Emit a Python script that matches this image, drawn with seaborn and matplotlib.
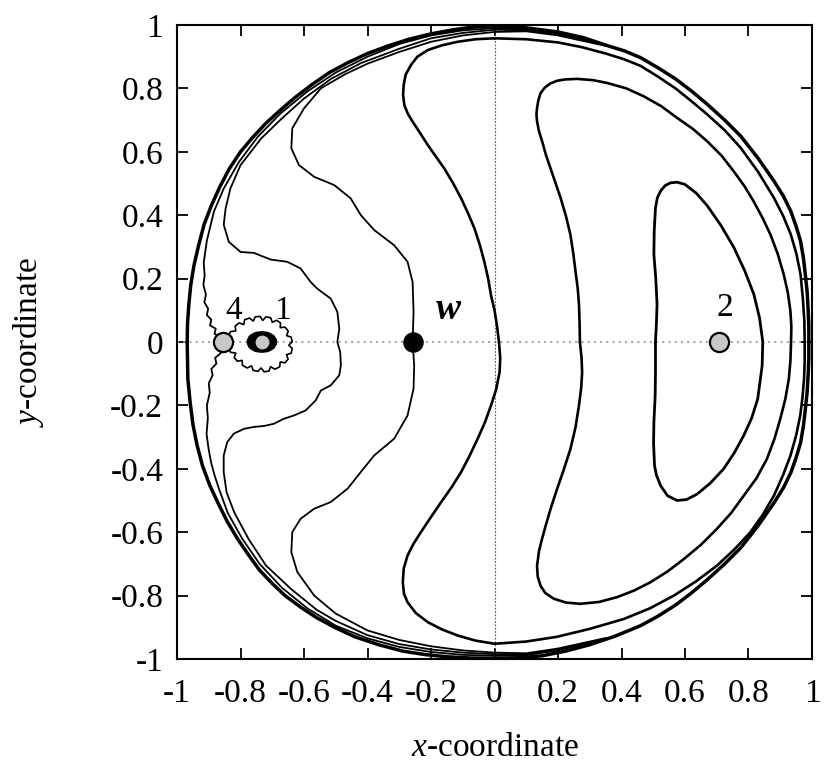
import matplotlib
matplotlib.use("Agg")
import matplotlib.pyplot as plt
import seaborn as sns

# ---------------- data ----------------
# outermost closed curve
c0_x = [0.0, -0.07, -0.13, -0.2, -0.27, -0.335, -0.4, -0.46, -0.52, -0.575, -0.63, -0.675, -0.72, -0.762,
        -0.8, -0.835, -0.865, -0.892, -0.915, -0.932, -0.947, -0.957, -0.963, -0.967, -0.968,
        -0.967, -0.966, -0.959, -0.95, -0.937, -0.92, -0.897, -0.87, -0.842, -0.81, -0.776, -0.74, -0.7,
        -0.66, -0.61, -0.56, -0.5, -0.44, -0.365, -0.29, -0.22, -0.15, -0.075, 0.0,
        0.075, 0.15, 0.225, 0.3, 0.38, 0.46, 0.515, 0.57, 0.62, 0.67, 0.725, 0.775, 0.83, 0.88, 0.91,
        0.933, 0.95, 0.964, 0.973, 0.979, 0.985, 0.988, 0.99, 0.99,
        0.99, 0.988, 0.985, 0.979, 0.973, 0.964, 0.95, 0.933, 0.91, 0.88, 0.83, 0.775, 0.725, 0.67,
        0.62, 0.57, 0.515, 0.46, 0.41, 0.355, 0.28, 0.2, 0.1, 0.0]
c0_y = [0.997, 0.993, 0.985, 0.972, 0.955, 0.934, 0.91, 0.882, 0.85, 0.812, 0.77, 0.731, 0.69, 0.645,
        0.6, 0.547, 0.49, 0.43, 0.37, 0.305, 0.24, 0.178, 0.116, 0.058, 0.0,
        -0.058, -0.116, -0.188, -0.26, -0.325, -0.39, -0.452, -0.51, -0.566, -0.62, -0.67, -0.72, -0.762,
        -0.8, -0.837, -0.87, -0.902, -0.93, -0.955, -0.975, -0.986, -0.993, -0.997, -0.998,
        -0.996, -0.99, -0.975, -0.955, -0.928, -0.895, -0.865, -0.83, -0.792, -0.75, -0.7, -0.65, -0.58,
        -0.508, -0.46, -0.413, -0.365, -0.318, -0.265, -0.213, -0.155, -0.1, -0.05, 0.0,
        0.05, 0.1, 0.155, 0.213, 0.265, 0.318, 0.365, 0.413, 0.46, 0.508, 0.58, 0.65, 0.7, 0.75,
        0.792, 0.83, 0.865, 0.897, 0.918, 0.935, 0.96, 0.978, 0.991, 0.997]

# curve through point 4 (left part; its right part runs inside the outer bundle)
c4_x = [0.35, 0.2, 0.1, 0.0, -0.1, -0.2, -0.3, -0.4, -0.5, -0.59, -0.675, -0.745, -0.805, -0.853, -0.884,
        -0.906, -0.916, -0.913, -0.917, -0.909, -0.914, -0.902, -0.906, -0.892, -0.896, -0.878, -0.882,
        -0.868, -0.858,
        -0.868, -0.862, -0.88, -0.876, -0.892, -0.888, -0.9, -0.897, -0.906, -0.903, -0.907, -0.901, -0.893,
        -0.882, -0.868, -0.84, -0.795, -0.74, -0.67, -0.59, -0.5, -0.4, -0.3, -0.2, -0.1, 0.0, 0.1, 0.2, 0.35]
c4_y = [0.938, 0.973, 0.986, 0.99, 0.983, 0.967, 0.94, 0.9, 0.85, 0.79, 0.72, 0.648, 0.568, 0.484, 0.411,
        0.32, 0.25, 0.21, 0.18, 0.15, 0.125, 0.105, 0.085, 0.07, 0.052, 0.042, 0.026,
        0.018, 0.0,
        -0.02, -0.035, -0.05, -0.068, -0.085, -0.105, -0.13, -0.16, -0.2, -0.24, -0.29, -0.335, -0.379,
        -0.42, -0.463, -0.54, -0.62, -0.7, -0.775, -0.84, -0.895, -0.935, -0.962, -0.978, -0.987, -0.99,
        -0.988, -0.973, -0.938]

# bumpy curve enclosing points 4 and 1
b_x = [0.35, 0.2, 0.1, 0.0, -0.1, -0.2, -0.3, -0.42, -0.515, -0.6, -0.67, -0.735, -0.8, -0.832, -0.847,
       -0.853, -0.837, -0.8, -0.758, -0.705, -0.653, -0.611, -0.579, -0.558, -0.516, -0.495, -0.489, -0.495,
       -0.486, -0.484, -0.489, -0.516, -0.547, -0.563, -0.595, -0.632, -0.663, -0.695, -0.726, -0.758,
       -0.789, -0.821, -0.842, -0.853, -0.853, -0.844, -0.82, -0.775, -0.72, -0.64, -0.56, -0.5, -0.4,
       -0.3, -0.2, -0.1, 0.0, 0.1, 0.2, 0.35]
b_y = [0.936, 0.97, 0.983, 0.985, 0.975, 0.958, 0.925, 0.88, 0.83, 0.768, 0.705, 0.642, 0.558, 0.484,
       0.421, 0.37, 0.316, 0.284, 0.281, 0.26, 0.253, 0.232, 0.189, 0.168, 0.137, 0.095, 0.042, 0.0,
       -0.032, -0.074, -0.105, -0.137, -0.153, -0.184, -0.216, -0.232, -0.242, -0.258, -0.265, -0.268,
       -0.274, -0.289, -0.316, -0.358, -0.411, -0.474, -0.537, -0.621, -0.705, -0.78, -0.845, -0.88,
       -0.925, -0.953, -0.97, -0.98, -0.985, -0.985, -0.97, -0.936]

# curve through w
w_x = [0.35, 0.2, 0.1, 0.0, -0.1, -0.2, -0.3, -0.4, -0.47, -0.547, -0.6, -0.637, -0.64, -0.616, -0.568,
       -0.505, -0.453, -0.421, -0.379, -0.316, -0.274, -0.258, -0.255, -0.258, -0.253, -0.255, -0.274,
       -0.316, -0.379, -0.421, -0.463, -0.516, -0.568, -0.611, -0.637, -0.64, -0.621, -0.568, -0.5, -0.4,
       -0.3, -0.2, -0.1, 0.0, 0.1, 0.2, 0.35]
w_y = [0.934, 0.967, 0.98, 0.978, 0.967, 0.947, 0.915, 0.878, 0.845, 0.8, 0.737, 0.674, 0.611, 0.558,
       0.521, 0.495, 0.453, 0.4, 0.353, 0.305, 0.253, 0.189, 0.095, 0.0, -0.074, -0.147, -0.232,
       -0.305, -0.358, -0.41, -0.463, -0.505, -0.526, -0.558, -0.6, -0.663, -0.726, -0.8, -0.857, -0.91,
       -0.94, -0.96, -0.973, -0.98, -0.982, -0.967, -0.934]

# first crescent
c1_x = [0.0, -0.06, -0.116, -0.165, -0.21, -0.243, -0.263, -0.28, -0.286, -0.288, -0.284, -0.273, -0.258,
        -0.235, -0.21, -0.158, -0.13, -0.105, -0.083, -0.063, -0.046, -0.032, -0.02, -0.011, 0.0, 0.008,
        0.014, 0.018, 0.016, 0.005, -0.011, -0.03, -0.053, -0.078, -0.105, -0.135, -0.168, -0.2, -0.232,
        -0.256, -0.274, -0.286, -0.289, -0.285, -0.274, -0.248, -0.21, -0.165, -0.116, -0.06, 0.0,
        0.1, 0.197, 0.3, 0.407, 0.49, 0.565, 0.635, 0.7, 0.755, 0.806, 0.845, 0.88, 0.908, 0.932, 0.95,
        0.963, 0.97, 0.975, 0.977, 0.977,
        0.976, 0.971, 0.964, 0.951, 0.933, 0.909, 0.88, 0.83, 0.775, 0.725, 0.67, 0.62, 0.57, 0.515,
        0.46, 0.405, 0.35, 0.275, 0.2, 0.1, 0.0]
c1_y = [0.958, 0.955, 0.947, 0.936, 0.921, 0.9, 0.874, 0.843, 0.811, 0.78, 0.747, 0.72, 0.695,
        0.66, 0.621, 0.547, 0.5, 0.453, 0.405, 0.358, 0.305, 0.253, 0.2, 0.147, 0.1, 0.05,
        0.0, -0.05, -0.095, -0.15, -0.2, -0.253, -0.305, -0.358, -0.41, -0.458, -0.505, -0.552, -0.6,
        -0.638, -0.674, -0.715, -0.758, -0.795, -0.821, -0.855, -0.884, -0.907, -0.926, -0.942, -0.952,
        -0.945, -0.93, -0.905, -0.874, -0.84, -0.8, -0.755, -0.706, -0.655, -0.6, -0.545, -0.485, -0.422,
        -0.359, -0.295, -0.232, -0.175, -0.117, -0.058, 0.0,
        0.066, 0.14, 0.213, 0.278, 0.34, 0.398, 0.455, 0.537, 0.613, 0.668, 0.718, 0.76, 0.8, 0.837,
        0.871, 0.893, 0.91, 0.93, 0.945, 0.955, 0.958]

# second crescent
c2_x = [0.269, 0.268, 0.266, 0.262, 0.255, 0.248, 0.239, 0.225, 0.208, 0.192, 0.176, 0.162, 0.15, 0.14,
        0.134, 0.132, 0.134, 0.138, 0.145, 0.158, 0.175, 0.197, 0.22, 0.26, 0.31, 0.355, 0.415, 0.47,
        0.525, 0.575, 0.625, 0.67, 0.715, 0.753, 0.787, 0.816, 0.845, 0.869, 0.892, 0.911, 0.924, 0.932,
        0.935, 0.934, 0.932, 0.927, 0.916, 0.9, 0.882, 0.858, 0.825, 0.785, 0.745, 0.7, 0.65, 0.596,
        0.545, 0.491, 0.44, 0.386, 0.33, 0.27, 0.225, 0.187, 0.16, 0.145, 0.136, 0.134, 0.14, 0.15,
        0.161, 0.178, 0.197, 0.219, 0.239, 0.255, 0.266, 0.273, 0.276, 0.274, 0.269]
c2_y = [0.0, 0.06, 0.119, 0.17, 0.224, 0.28, 0.339, 0.397, 0.455, 0.502, 0.549, 0.59, 0.633, 0.665,
        0.696, 0.718, 0.738, 0.762, 0.785, 0.802, 0.815, 0.824, 0.828, 0.83, 0.826, 0.817, 0.8, 0.775,
        0.744, 0.707, 0.672, 0.633, 0.588, 0.539, 0.492, 0.444, 0.39, 0.339, 0.278, 0.213, 0.155, 0.098,
        0.05, 0.0, -0.06, -0.117, -0.18, -0.243, -0.305, -0.369, -0.43, -0.485, -0.54, -0.59, -0.64,
        -0.685, -0.724, -0.758, -0.784, -0.805, -0.82, -0.826, -0.822, -0.81, -0.792, -0.769, -0.74,
        -0.706, -0.66, -0.62, -0.58, -0.522, -0.464, -0.4, -0.338, -0.27, -0.2, -0.145, -0.096, -0.048, 0.0]

# D-shaped curve around point 2
d_x = [0.507, 0.51, 0.512, 0.508, 0.502, 0.503, 0.507, 0.513, 0.523, 0.537, 0.554, 0.575, 0.6, 0.635,
       0.67, 0.713, 0.754, 0.788, 0.817, 0.835, 0.845, 0.843, 0.829, 0.81, 0.785, 0.755, 0.722, 0.68,
       0.638, 0.605, 0.575, 0.545, 0.523, 0.51, 0.504, 0.501, 0.502, 0.506, 0.507, 0.507]
d_y = [0.0, 0.06, 0.119, 0.2, 0.276, 0.35, 0.423, 0.455, 0.476, 0.493, 0.502, 0.504, 0.497, 0.47,
       0.43, 0.368, 0.298, 0.225, 0.15, 0.075, 0.0, -0.075, -0.18, -0.24, -0.295, -0.35, -0.4, -0.445,
       -0.48, -0.497, -0.5, -0.485, -0.453, -0.42, -0.39, -0.32, -0.253, -0.17, -0.096, 0.0]

# scalloped loop from point 4 around point 1
loop_x = [-0.835, -0.8413, -0.8313, -0.815, -0.8169, -0.8044, -0.79, -0.787, -0.772, -0.76, -0.7534,
          -0.7384, -0.73, -0.72, -0.705, -0.70, -0.6865, -0.674, -0.675, -0.6598, -0.6498, -0.655,
          -0.6406, -0.6371, -0.648, -0.6371, -0.6406, -0.655, -0.6502, -0.6602, -0.675, -0.6767, -0.6917,
          -0.705, -0.7108, -0.7258, -0.735, -0.7455, -0.7605, -0.765, -0.7789, -0.7939, -0.795, -0.8098,
          -0.8198, -0.815, -0.8313, -0.8413, -0.835]
loop_y = [0.0, 0.0152, 0.0327, 0.035, 0.0502, 0.0602, 0.055, 0.07, 0.0755, 0.066, 0.0795,
          0.0805, 0.068, 0.0793, 0.0763, 0.062, 0.0685, 0.06, 0.045, 0.0469, 0.0344, 0.02,
          0.0155, 0.0005, -0.01, -0.0205, -0.0355, -0.04, -0.0543, -0.0658, -0.063, -0.0784, -0.0859,
          -0.078, -0.0919, -0.0939, -0.082, -0.0929, -0.0894, -0.075, -0.0821, -0.0736, -0.058, -0.0608,
          -0.0493, -0.035, -0.0327, -0.0152, 0.0]

# thick ring around point 1
ring_x = [-0.701, -0.705, -0.717, -0.733, -0.749, -0.761, -0.765, -0.761, -0.749, -0.733, -0.717, -0.705, -0.701]
ring_y = [0.0, 0.009, 0.016, 0.018, 0.016, 0.009, 0.0, -0.009, -0.016, -0.018, -0.016, -0.009, 0.0]

# special points
gray_x = [-0.855, -0.733, 0.707]
gray_y = [0.0, 0.0, 0.0]
w_pt_x = [-0.257]
w_pt_y = [0.0]

labels = ["4", "1", "2"]
label_x = [-0.822, -0.669, 0.727]
label_y = [0.1, 0.1, 0.109]

ticks = [-1, -0.8, -0.6, -0.4, -0.2, 0, 0.2, 0.4, 0.6, 0.8, 1]
tick_labels = ["-1", "-0.8", "-0.6", "-0.4", "-0.2", "0", "0.2", "0.4", "0.6", "0.8", "1"]

# ---------------- style ----------------
sns.set_style("ticks")
plt.rcParams["font.family"] = ["Liberation Serif", "DejaVu Serif"]
plt.rcParams["mathtext.fontset"] = "custom"
plt.rcParams["mathtext.it"] = "Liberation Serif:italic"
plt.rcParams["mathtext.rm"] = "Liberation Serif"
plt.rcParams["axes.unicode_minus"] = False
for key in ["text.color", "axes.labelcolor", "xtick.color", "ytick.color", "axes.edgecolor"]:
    plt.rcParams[key] = "black"

fig = plt.figure(figsize=(8.3, 7.71), dpi=100)
ax = fig.add_axes([0.2133, 0.1453, 0.765, 0.8223])

ax.axhline(0, color="#a0a0a0", lw=1.4, ls=(0, (1, 2.2)), zorder=1)
ax.axvline(0, color="#555555", lw=0.8, ls=(0, (1.5, 1.5)), zorder=1)

thin = 1.3
curves = [
    (c0_x, c0_y, 2.5),
    (c4_x, c4_y, thin),
    (b_x, b_y, thin),
    (w_x, w_y, thin),
    (c1_x, c1_y, 1.9),
    (c2_x, c2_y, 1.9),
    (d_x, d_y, 2.0),
    (loop_x, loop_y, 1.2),
    (ring_x, ring_y, 7.5),
]
for cx, cy, lw in curves:
    sns.lineplot(x=cx, y=cy, sort=False, estimator=None, color="black", linewidth=lw,
                 ax=ax, legend=False, zorder=3)

sns.scatterplot(x=gray_x[::2], y=gray_y[::2], s=190, color="#c8c8c8", edgecolor="black",
                linewidth=1.6, ax=ax, zorder=6, legend=False)
sns.scatterplot(x=gray_x[1:2], y=gray_y[1:2], s=120, color="#c8c8c8", edgecolor="black",
                linewidth=1.0, ax=ax, zorder=6, legend=False)
sns.scatterplot(x=w_pt_x, y=w_pt_y, s=190, color="black", edgecolor="black",
                linewidth=1.0, ax=ax, zorder=6, legend=False)

for t, lx, ly in zip(labels, label_x, label_y):
    ax.text(lx, ly, t, fontsize=24, ha="center", va="center", zorder=7)
ax.text(-0.146, 0.104, "w", fontsize=27, fontstyle="italic", fontweight="bold",
        ha="center", va="center", zorder=7)

ax.set_xlim(-1, 1)
ax.set_ylim(-1, 1)
ax.set_xticks(ticks)
ax.set_xticklabels(tick_labels)
ax.set_yticks(ticks)
ax.set_yticklabels(tick_labels)
ax.tick_params(direction="in", length=8, width=1.3, top=True, right=True,
               labelsize=24, colors="black")
ax.tick_params(axis="x", pad=14)
ax.tick_params(axis="y", pad=10)
for sp in ax.spines.values():
    sp.set_linewidth(1.5)
    sp.set_color("black")
    sp.set_visible(True)

ax.set_xlabel("$x$-coordinate", fontsize=24, labelpad=17)
ax.set_ylabel("$y$-coordinate", fontsize=24, labelpad=46)

fig.savefig("out.png", dpi=100)
